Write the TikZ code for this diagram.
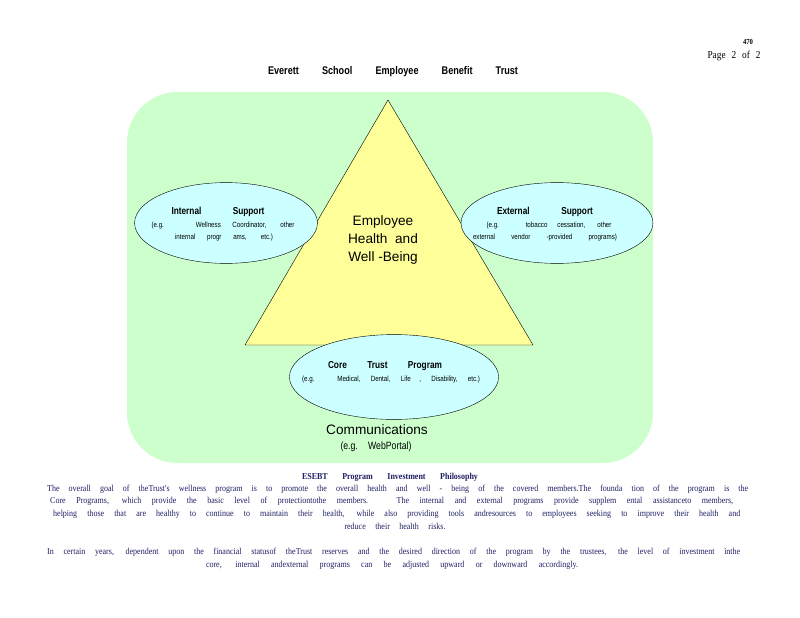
\documentclass[tikz,border=0pt]{standalone}
\usepackage{amsmath, tikz, tkz-euclide, xcolor}
\usepackage{fontspec}
\setmainfont{Liberation Serif}
\setsansfont{Liberation Sans}
\newfontfamily\narrowsans[FakeStretch=0.82]{Liberation Sans}
\newfontfamily\narrowserif[FakeStretch=0.88]{Liberation Serif}
\usetikzlibrary{shapes.geometric}
\definecolor{paleGreen}{HTML}{CCFFCC}
\definecolor{paleCyan}{HTML}{CCFFFF}
\definecolor{paleYellow}{HTML}{FFFF99}
\definecolor{proseBlue}{RGB}{30,30,100}
\newcommand{\spread}[2]{\makebox[0.99\dimexpr#1pt\relax][s]{#2}}
\tikzset{
    bubble/.style={ellipse, draw, thin, fill=paleCyan, inner sep=0pt},
    head/.style={font=\narrowsans\bfseries\fontsize{10}{12}\selectfont, inner sep=0pt},
    note/.style={font=\narrowsans\fontsize{7.5}{9}\selectfont, inner sep=0pt},
    big/.style={font=\sffamily\fontsize{13.5}{18}\selectfont, inner sep=0pt, align=center},
    prose/.style={font=\narrowserif\fontsize{9}{10}\selectfont, text=proseBlue, inner sep=0pt},
}

\begin{document}
\begin{tikzpicture}[x=0.99pt, y=-0.99pt]
    \useasboundingbox (0,0) rectangle (800,618);
    \fill[paleGreen, rounded corners=50pt] (127,92) rectangle (653,463);
    \tkzDefPoints{388/100/A, 245/345/B, 533/345/C}
    \tkzDrawPolygon[fill=paleYellow, thin](A,B,C)
    \node[bubble, minimum width=181, minimum height=80] (inner) at (226,223) {};
    \node[bubble, minimum width=190, minimum height=80] (outer) at (557,223) {};
    \node[bubble, minimum width=207, minimum height=84] (core) at (394,377) {};

    \node[font=\narrowserif\bfseries\fontsize{7.5}{8}\selectfont, inner sep=0pt] (sheet) at (748,42) {470};
    \node[font=\narrowserif\fontsize{10.5}{12}\selectfont, inner sep=0pt] (page) at (734,56) {\spread{53}{Page 2 of 2}};
    \node[font=\narrowsans\bfseries\fontsize{11}{12}\selectfont, inner sep=0pt] (title) at (393,72)
        {\spread{250}{Everett School Employee Benefit Trust}};

    \node[big] (goal) at (383,240) {Employee\\Health\ \ and\\Well -Being};

    \node[head] (innerHead) at (218,212) {\spread{93}{Internal Support}};
    \node[note] (innerOne) at (223,226) {\spread{143}{(e.g. Wellness Coordinator, other}};
    \node[note] (innerTwo) at (224,238) {\spread{98}{internal progr ams, etc.)}};

    \node[head] (outerHead) at (545,212) {\spread{96}{External Support}};
    \node[note] (outerOne) at (549,226) {\spread{125}{(e.g. tobacco cessation, other}};
    \node[note] (outerTwo) at (545,238) {\spread{144}{external vendor -provided programs)}};

    \node[head] (coreHead) at (385,366) {\spread{114}{Core Trust Program}};
    \node[note] (coreOne) at (391,380) {\spread{178}{(e.g. Medical, Dental, Life , Disability, etc.)}};

    \node[big] (comms) at (377,430) {Communications};
    \node[font=\narrowsans\fontsize{10.5}{12}\selectfont, inner sep=0pt] (portal) at (376,447) {\spread{71}{(e.g. WebPortal)}};

    \node[prose, font=\narrowserif\bfseries\fontsize{9}{10}\selectfont] (philo) at (390,477)
        {\spread{176}{ESEBT Program Investment Philosophy}};
    \node[prose, anchor=west] (lineA) at (47,489)
        {\spread{701}{The overall goal of theTrust's wellness program is to promote the overall health and well - being of the covered members.The founda tion of the program is the}};
    \node[prose, anchor=west] (lineB) at (50,501)
        {\spread{683}{Core Programs, which provide the basic level of protectiontothe members. The internal and external programs provide supplem ental assistanceto members,}};
    \node[prose, anchor=west] (lineC) at (53,514)
        {\spread{687}{helping those that are healthy to continue to maintain their health, while also providing tools andresources to employees seeking to improve their health and}};
    \node[prose] (lineD) at (395,526) {\spread{101}{reduce their health risks.}};
    \node[prose, anchor=west] (lineE) at (47,552)
        {\spread{693}{In certain years, dependent upon the financial statusof theTrust reserves and the desired direction of the program by the trustees, the level of investment inthe}};
    \node[prose] (lineF) at (392,565)
        {\spread{372}{core, internal andexternal programs can be adjusted upward or downward accordingly.}};
\end{tikzpicture}
\end{document}
